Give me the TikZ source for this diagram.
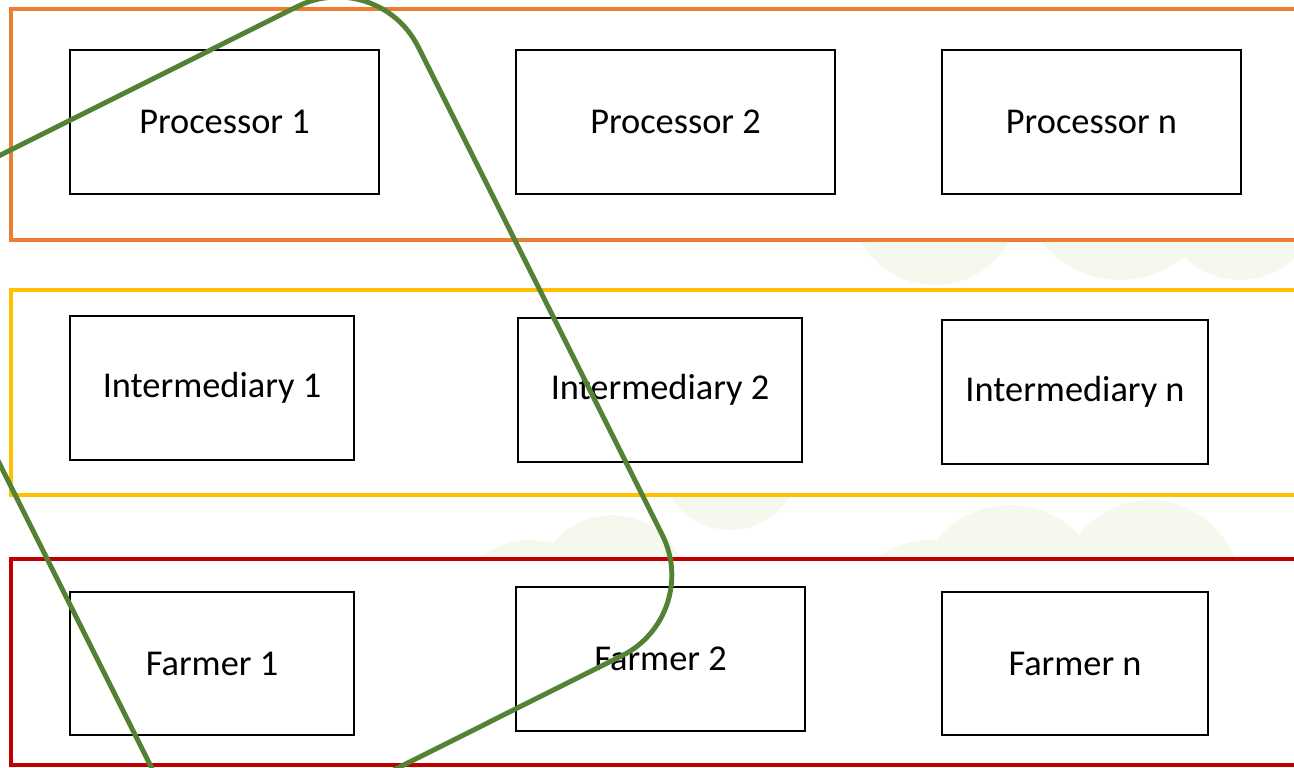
\documentclass[tikz,border=0pt]{standalone}
\usepackage{fontspec}
\setmainfont{Carlito}
\usetikzlibrary{positioning}

\definecolor{bandorange}{RGB}{237,125,49}
\definecolor{bandyellow}{RGB}{255,192,0}
\definecolor{bandred}{RGB}{192,0,0}
\definecolor{chaingreen}{RGB}{84,130,53}
\definecolor{faintleaf}{RGB}{245,249,237}

\begin{document}
\begin{tikzpicture}[
    x=0.02cm, y=-0.02cm,
    % Plain actor boxes
    actor_box/.style={rectangle, draw=black, fill=white, line width=1.1pt, minimum height=2.88cm, inner sep=0pt, font=\fontsize{20.7}{24}\selectfont},
    % Coloured layer bands
    layer_band/.style={draw=#1, fill=white, line width=2.6pt},
    % Faint background blobs
    leaf_blob/.style={fill=faintleaf, draw=none}
]

    \useasboundingbox (0,0) rectangle (1294,767);
    \clip (0,0) rectangle (1294,767);

    % --- BACKGROUND ---
    \fill[leaf_blob] (935,200) circle[radius=1.7cm];
    \fill[leaf_blob] (1120,180) circle[radius=2cm];
    \fill[leaf_blob] (1240,200) circle[radius=1.6cm];
    \fill[leaf_blob] (530,620) circle[radius=1.6cm];
    \fill[leaf_blob] (612,590) circle[radius=1.5cm];
    \fill[leaf_blob] (730,460) circle[radius=1.4cm];
    \fill[leaf_blob] (930,625) circle[radius=1.7cm];
    \fill[leaf_blob] (1010,600) circle[radius=1.9cm];
    \fill[leaf_blob] (1150,590) circle[radius=1.8cm];

    % --- LAYER BANDS ---
    \draw[layer_band=bandorange] (11,9) rectangle (1320,240);
    \draw[layer_band=bandyellow] (11,290) rectangle (1320,495);
    \draw[layer_band=bandred] (11,559) rectangle (1320,765);

    % --- PROCESSORS ---
    \node[actor_box, minimum width=6.18cm] (P1) at (224.5,122) {Processor 1};
    \node[actor_box, minimum width=6.38cm] (P2) at (675.5,122) {Processor 2};
    \node[actor_box, minimum width=5.98cm] (Pn) at (1091.5,122) {Processor n};

    % --- INTERMEDIARIES ---
    \node[actor_box, minimum width=5.68cm] (I1) at (212,388) {Intermediary 1};
    \node[actor_box, minimum width=5.68cm] (I2) at (660,390) {Intermediary 2};
    \node[actor_box, minimum width=5.32cm] (In) at (1075,392) {Intermediary n};

    % --- FARMERS ---
    \node[actor_box, minimum width=5.68cm, minimum height=2.86cm] (F1) at (212,663.5) {Farmer 1};
    \node[actor_box, minimum width=5.78cm] (F2) at (660.5,659) {Farmer 2};
    \node[actor_box, minimum width=5.32cm, minimum height=2.86cm] (Fn) at (1075,663.5) {Farmer n};

    % --- CHAIN GROUP ---
    \node[rectangle, rotate=26.57, draw=chaingreen, line width=2.8pt, rounded corners=1.8cm,
          minimum width=11.22cm, minimum height=14.52cm] (chain) at (289.4,416.3) {};

\end{tikzpicture}
\end{document}
